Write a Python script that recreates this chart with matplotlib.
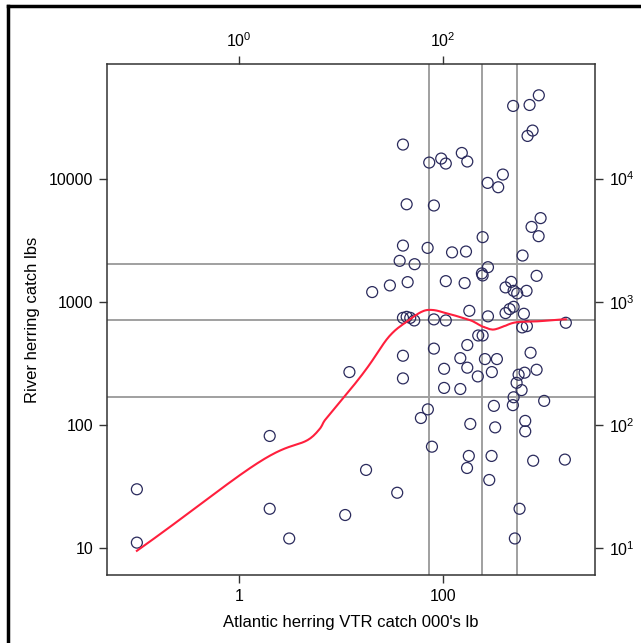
import numpy as np
import matplotlib
matplotlib.use('Agg')
import matplotlib.pyplot as plt
from matplotlib.lines import Line2D
from matplotlib.ticker import FixedLocator, FuncFormatter, NullLocator

plt.rcParams['font.family'] = ['Liberation Sans', 'DejaVu Sans']

# Atlantic herring VTR catch (000's lb) and river herring catch (lbs)
atl_catch = np.array([
    861, 483, 699, 748, 668, 40.4, 73.0, 95.6, 106, 152,
    172, 383, 272, 345, 43.9, 81.1, 896, 731, 857, 243,
    40.4, 70.4, 122, 167, 597, 37.5, 52.5, 274, 239, 243,
    819, 20.2, 30.1, 44.9, 106, 162, 462, 407, 488, 529,
    653, 180, 274, 407, 446, 488, 615, 40.4, 43.9, 47.6,
    52.1, 81.1, 106, 592, 658, 1582, 220, 243, 81.1, 172,
    40.4, 147, 256, 335, 715, 102, 172, 299, 218, 546,
    625, 819, 40.4, 522, 102, 147, 584, 488, 480, 971,
    313, 70.8, 60.5, 184, 322, 634, 634, 77.6, 17.6, 35.5,
    178, 171, 297, 282, 758, 1548, 558, 502, 0.101, 0.101,
    2.01, 2.01, 3.12, 11.0, 12.1,
])
river_catch = np.array([
    47450, 38900, 39600, 24550, 22200, 18900, 13500, 14550, 13250, 16150,
    13770, 10790, 9230, 8510, 6190, 6050, 4780, 4055, 3410, 3350,
    2860, 2740, 2520, 2560, 2375, 2150, 2020, 1910, 1700, 1637,
    1625, 1200, 1358, 1445, 1472, 1420, 1452, 1309, 1228, 1170,
    1228, 845, 762, 810, 873, 911, 800, 741, 755, 741,
    706, 720, 706, 620, 635, 676, 533, 533, 417, 446,
    365, 349, 343, 343, 386, 286, 292, 269, 248, 256,
    266, 281, 239, 220, 200, 196, 192, 168, 145, 157,
    143, 134, 114, 102, 95.7, 108, 88.9, 66.7, 43.2, 28.2,
    56.1, 44.8, 56.1, 35.8, 51.3, 52.4, 20.9, 12.0, 30.1, 11.1,
    81.5, 20.9, 12.0, 18.6, 269,
])

x_ticks = [1, 100]
y_ticks = [10, 100, 1000, 10000]


def lowess(x, y, xg, f=2/3, iters=3):
    # local linear fit with tricube weights and bisquare robustness steps
    n = len(x)
    q = int(np.floor(n * f))
    rob = np.ones(n)

    def fit_at(x0, wts):
        dist = np.abs(x - x0)
        h = np.sort(dist)[q - 1]
        u = np.clip(dist / h, 0, 1)
        w = (1 - u ** 3) ** 3 * wts
        sw = w.sum()
        xm = (w * x).sum() / sw
        ym = (w * y).sum() / sw
        sxx = (w * (x - xm) ** 2).sum()
        b = (w * (x - xm) * (y - ym)).sum() / sxx if sxx > 0 else 0
        return ym + b * (x0 - xm)

    for it in range(iters):
        fitted = np.array([fit_at(x0, rob) for x0 in x])
        resid = y - fitted
        s = np.median(np.abs(resid))
        rr = np.clip(resid / (6 * s), -1, 1)
        rob = (1 - rr ** 2) ** 2
    return np.array([fit_at(x0, rob) for x0 in xg])


lx = np.log10(atl_catch)
ly = np.log10(river_catch)
grid = np.linspace(lx.min(), lx.max(), 300)
smooth = lowess(lx, ly, grid)

# quartile reference lines
qx = np.percentile(atl_catch, [25, 50, 75])
qy = np.percentile(river_catch, [25, 50, 75])

fig = plt.figure(figsize=(6.41, 6.43), dpi=100)
ax = fig.add_axes([0.167, 0.106, 0.761, 0.794])
ax.set_xscale('log')
ax.set_yscale('log')
ax.set_xlim(0.0516, 3040)
ax.set_ylim(6.08, 84700)

for v in qx:
    ax.axvline(v, color='#a0a0a0', lw=1.4, zorder=1)
for v in qy:
    ax.axhline(v, color='#a0a0a0', lw=1.4, zorder=1)

ax.scatter(atl_catch, river_catch, s=62, facecolors='none', edgecolors='#2a2a5c',
           linewidths=0.9, zorder=3)
ax.plot(10 ** grid, 10 ** smooth, color='#ff1f3d', lw=1.5, zorder=4)

for sp in ax.spines.values():
    sp.set_color('#333333')
    sp.set_linewidth(1.1)

ax.xaxis.set_major_locator(FixedLocator(x_ticks))
ax.yaxis.set_major_locator(FixedLocator(y_ticks))
ax.xaxis.set_minor_locator(NullLocator())
ax.yaxis.set_minor_locator(NullLocator())
ax.xaxis.set_major_formatter(FuncFormatter(lambda v, p: '%g' % v))
ax.yaxis.set_major_formatter(FuncFormatter(lambda v, p: '%d' % round(v)))
ax.tick_params(length=6, width=1, color='#333333', labelsize=11.5, pad=4)

ax_top = ax.secondary_xaxis('top')
ax_top.xaxis.set_major_locator(FixedLocator(x_ticks))
ax_top.xaxis.set_minor_locator(NullLocator())
ax_top.xaxis.set_major_formatter(
    FuncFormatter(lambda v, p: r'$\mathregular{10^{%d}}$' % round(np.log10(v))))
ax_top.tick_params(length=6, width=1, color='#333333', labelsize=11.5, pad=4)
ax_top.spines['top'].set_visible(False)

ax_right = ax.secondary_yaxis('right')
ax_right.yaxis.set_major_locator(FixedLocator(y_ticks))
ax_right.yaxis.set_minor_locator(NullLocator())
ax_right.yaxis.set_major_formatter(
    FuncFormatter(lambda v, p: r'$\mathregular{10^{%d}}$' % round(np.log10(v))))
ax_right.tick_params(length=6, width=1, color='#333333', labelsize=11.5, pad=4)
ax_right.spines['right'].set_visible(False)

ax.set_xlabel("Atlantic herring VTR catch 000's lb", fontsize=12, labelpad=8)
ax.set_ylabel('River herring catch lbs', fontsize=12, labelpad=6)

# frame of the original screenshot (top and left edges)
fig.add_artist(Line2D([0.0125, 1], [0.991, 0.991], color='black', lw=2.5,
                      transform=fig.transFigure))
fig.add_artist(Line2D([0.0125, 0.0125], [0, 0.991], color='black', lw=2.5,
                      transform=fig.transFigure))

fig.savefig('out.png', dpi=100)
